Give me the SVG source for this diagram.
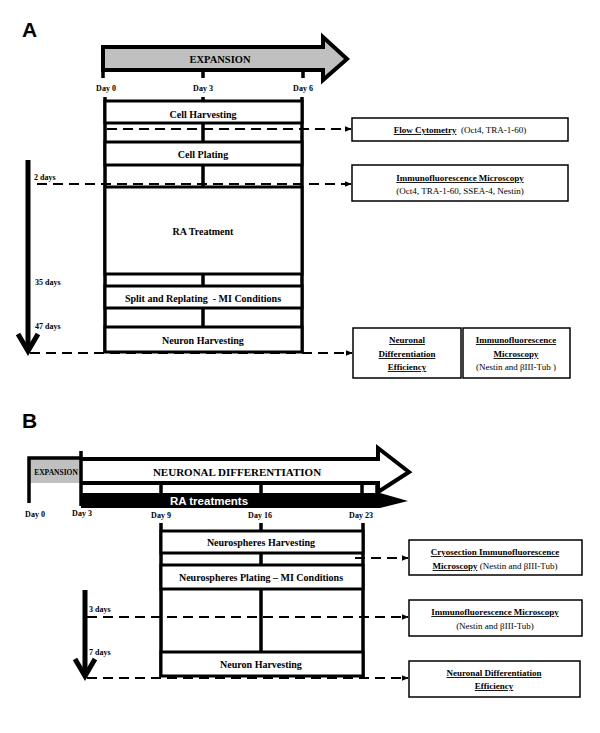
<svg xmlns="http://www.w3.org/2000/svg" width="600" height="733" viewBox="0 0 600 733">
<defs>
<marker id="ah" viewBox="0 0 10 10" refX="9" refY="5" markerWidth="3.5" markerHeight="3.5" orient="auto" markerUnits="strokeWidth">
<path d="M0,1 L10,5 L0,9 Z" fill="#000"/>
</marker>
<style>
.s{font-family:"Liberation Serif","Times New Roman",serif;fill:#000;}
.b{font-weight:bold;}
.lab{font-family:"Liberation Sans",Arial,sans-serif;font-weight:bold;font-size:21px;fill:#000;}
.row{fill:#fff;stroke:#000;stroke-width:3;}
.fr{stroke:#000;stroke-width:3.5;fill:none;}
.box{fill:#fff;stroke:#000;stroke-width:1.5;}
.dash{stroke:#000;stroke-width:2;stroke-dasharray:10 6;fill:none;marker-end:url(#ah);}
.day{font-family:"Liberation Serif","Times New Roman",serif;font-weight:bold;font-size:8px;text-anchor:middle;fill:#000;}
.dl{font-family:"Liberation Serif","Times New Roman",serif;font-weight:bold;font-size:8px;text-anchor:start;fill:#000;}
.rt{font-family:"Liberation Serif","Times New Roman",serif;font-weight:bold;font-size:10px;text-anchor:middle;fill:#000;}
.bt{font-family:"Liberation Serif","Times New Roman",serif;font-size:9px;text-anchor:middle;fill:#000;}
.u{font-weight:bold;text-decoration:underline;}
</style>
</defs>
<rect width="600" height="733" fill="#fff"/>

<!-- Panel A -->
<text class="lab" x="22" y="37">A</text>
<g id="expansionA">
<path d="M103,47 L323,47 L323,37 L347,59 L323,80 L323,70 L103,70 Z" fill="#c0c0c0" stroke="#000" stroke-width="4" stroke-linejoin="miter"/>
<text class="s b" x="220" y="63" font-size="10.5" text-anchor="middle">EXPANSION</text>
<path d="M103,70 V78 M203,70 V78 M303,70 V78" stroke="#000" stroke-width="3.5"/>
<text class="day" x="106" y="91">Day 0</text>
<text class="day" x="203" y="91">Day 3</text>
<text class="day" x="303" y="91">Day 6</text>
</g>

<g id="frameA">
<path class="fr" d="M105,97 V353 M302,97 V353 M203,97 V101 M203,123 V142 M203,165 V187 M203,274 V286 M203,308 V327"/>
</g>
<g id="cellHarvesting">
<rect class="row" x="105" y="101" width="197" height="22"/>
<text class="rt" x="203" y="118">Cell Harvesting</text>
</g>
<g id="cellPlating">
<rect class="row" x="105" y="142" width="197" height="23"/>
<text class="rt" x="203" y="158">Cell Plating</text>
</g>
<g id="raTreatment">
<rect class="row" x="105" y="187" width="197" height="87"/>
<text class="rt" x="203" y="235">RA Treatment</text>
</g>
<g id="splitReplating">
<rect class="row" x="105" y="286" width="197" height="22"/>
<text class="rt" x="203" y="302" xml:space="preserve">Split and Replating  - MI Conditions</text>
</g>
<g id="neuronHarvestingA">
<rect class="row" x="105" y="327" width="197" height="25"/>
<text class="rt" x="203" y="344">Neuron Harvesting</text>
</g>

<g id="timelineA">
<path d="M28,160 V348" stroke="#000" stroke-width="5"/>
<path d="M18,334 L28,351 L38,334" stroke="#000" stroke-width="5" fill="none" stroke-linejoin="miter"/>
<text class="dl" x="34" y="180">2 days</text>
<text class="dl" x="35" y="285">35 days</text>
<text class="dl" x="35" y="329">47 days</text>
</g>

<g id="flowCytometry">
<rect class="box" x="352" y="118" width="216" height="23"/>
<text class="bt" x="460" y="133" xml:space="preserve"><tspan class="u">Flow Cytometry</tspan>  (Oct4, TRA-1-60)</text>
</g>
<g id="immunoA1">
<rect class="box" x="352" y="165" width="216" height="36"/>
<text class="bt" x="460" y="181"><tspan class="u">Immunofluorescence Microscopy</tspan></text>
<text class="bt" x="460" y="194">(Oct4, TRA-1-60, SSEA-4, Nestin)</text>
</g>
<g id="neuronalEffA">
<rect class="box" x="353" y="328" width="108" height="50"/>
<text class="bt" x="407" y="343"><tspan class="u">Neuronal</tspan></text>
<text class="bt" x="407" y="357"><tspan class="u">Differentiation</tspan></text>
<text class="bt" x="407" y="370"><tspan class="u">Efficiency</tspan></text>
</g>
<g id="immunoA2">
<rect class="box" x="463" y="328" width="107" height="50"/>
<text class="bt" x="516" y="343"><tspan class="u">Immunofluorescence</tspan></text>
<text class="bt" x="516" y="357"><tspan class="u">Microscopy</tspan></text>
<text class="bt" x="516" y="370">(Nestin and βIII-Tub )</text>
</g>

<g id="connectorsA">
<path class="dash" d="M107,129 H351"/>
<path class="dash" d="M37,184 H351"/>
<path class="dash" d="M30,353 H352"/>
</g>

<!-- Panel B -->
<text class="lab" x="22" y="428">B</text>
<g id="expansionB">
<rect x="29" y="458" width="52" height="25" fill="#c0c0c0"/>
<path d="M29,503 V458 H81" stroke="#000" stroke-width="3.5" fill="none"/>
<text class="s b" x="56" y="475" font-size="7.5" text-anchor="middle">EXPANSION</text>
</g>
<g id="neuronalDifferentiation">
<path d="M81,459 L378,459 L378,448 L409,472 L378,492 L378,483 L81,483" fill="#fff" stroke="#000" stroke-width="4" stroke-linejoin="miter"/>
<text class="s b" x="237" y="476" font-size="11" text-anchor="middle">NEURONAL DIFFERENTIATION</text>
<path d="M81,451 V506 M161,483 V494 M261,483 V494 M362,483 V494 M377,483 V494" stroke="#000" stroke-width="3.5"/>
</g>
<g id="raTreatments">
<path d="M81,493 L380,493 L408,501 L380,508 L81,508 Z" fill="#000"/>
<text x="209" y="505" font-family="'Liberation Sans',Arial,sans-serif" font-weight="bold" font-size="11.5" fill="#fff" text-anchor="middle">RA treatments</text>
</g>
<g id="daysB">
<text class="day" x="35" y="517">Day 0</text>
<text class="day" x="82" y="516">Day 3</text>
<text class="day" x="161" y="518">Day 9</text>
<text class="day" x="260" y="518">Day 16</text>
<text class="day" x="361" y="518">Day 23</text>
</g>

<g id="frameB">
<path class="fr" d="M161,523 V677 M363,523 V677 M261,523 V531 M261,553 V565 M261,589 V652"/>
</g>
<g id="neurospheresHarvesting">
<rect class="row" x="161" y="531" width="202" height="22"/>
<text class="rt" x="261" y="546">Neurospheres Harvesting</text>
</g>
<g id="neurospheresPlating">
<rect class="row" x="161" y="565" width="202" height="24"/>
<text class="rt" x="261" y="581">Neurospheres Plating – MI Conditions</text>
</g>
<g id="neuronHarvestingB">
<rect class="row" x="161" y="652" width="202" height="24"/>
<text class="rt" x="261" y="668">Neuron Harvesting</text>
</g>

<g id="timelineB">
<path d="M85,590 V673" stroke="#000" stroke-width="5"/>
<path d="M75,659 L85,676 L95,659" stroke="#000" stroke-width="5" fill="none" stroke-linejoin="miter"/>
<text class="dl" x="89" y="612">3 days</text>
<text class="dl" x="89" y="655">7 days</text>
</g>

<g id="cryosection">
<rect class="box" x="409" y="540" width="173" height="35"/>
<text class="bt" x="495" y="555"><tspan class="u">Cryosection Immunofluorescence</tspan></text>
<text class="bt" x="495" y="569"><tspan class="u">Microscopy</tspan> (Nestin and βIII-Tub)</text>
</g>
<g id="immunoB">
<rect class="box" x="409" y="600" width="173" height="36"/>
<text class="bt" x="495" y="615"><tspan class="u">Immunofluorescence Microscopy</tspan></text>
<text class="bt" x="495" y="629">(Nestin and βIII-Tub)</text>
</g>
<g id="neuronalEffB">
<rect class="box" x="409" y="661" width="171" height="36"/>
<text class="bt" x="494" y="676"><tspan class="u">Neuronal Differentiation</tspan></text>
<text class="bt" x="494" y="689"><tspan class="u">Efficiency</tspan></text>
</g>

<g id="connectorsB">
<path class="dash" d="M355,558 H408"/>
<path class="dash" d="M87,617 H408"/>
<path class="dash" d="M87,678 H408"/>
</g>
</svg>
